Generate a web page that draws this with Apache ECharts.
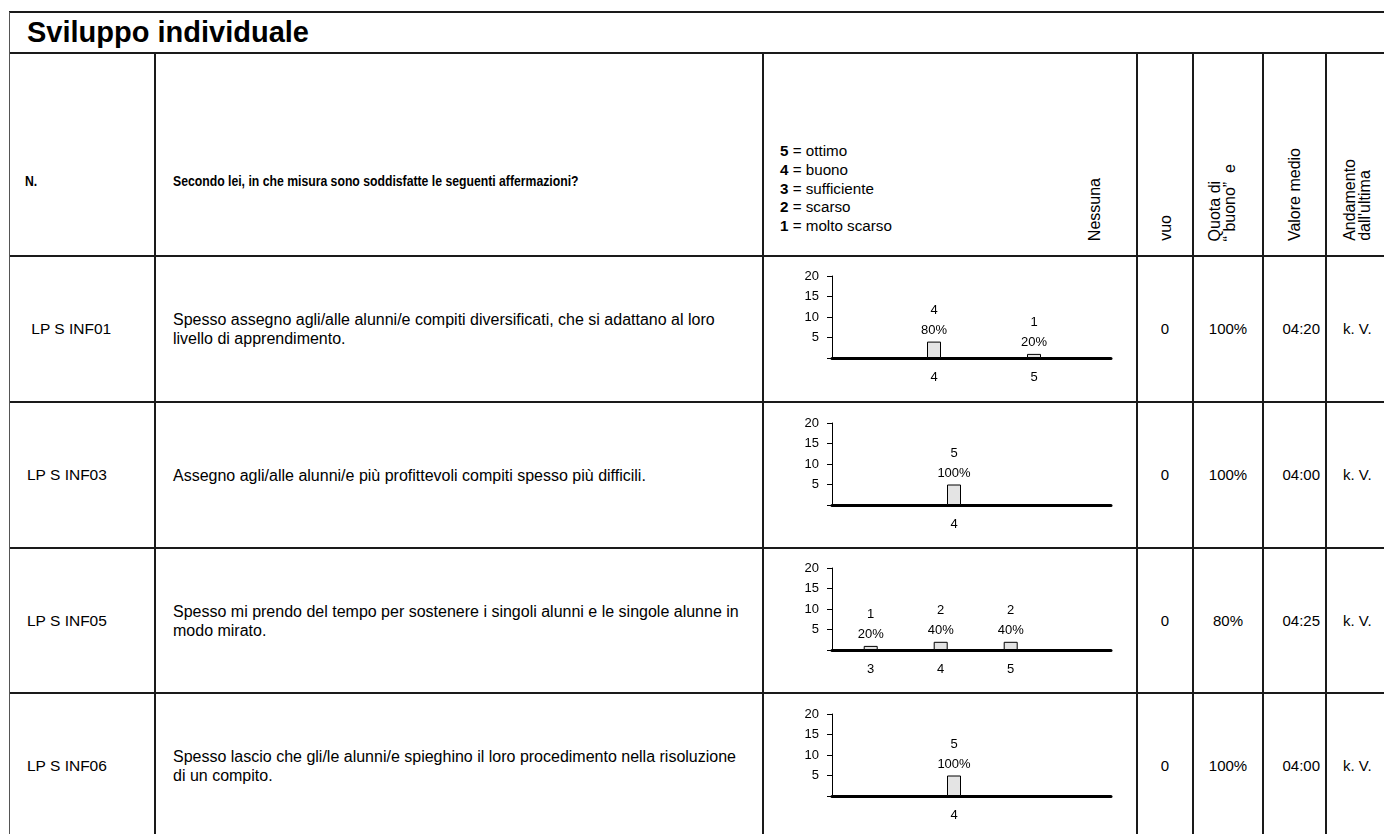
<!DOCTYPE html>
<html>
<head>
<meta charset="utf-8">
<script src="https://cdn.jsdelivr.net/npm/echarts@6/dist/echarts.min.js"></script>
<style>
  body { margin:0; background:#fff; font-family:"Liberation Sans", Arial, sans-serif; color:#000; }
  #page { position:absolute; left:0; top:0; width:1384px; height:834px; overflow:hidden; }
  .hl { position:absolute; height:2px; background:#1a1a1a; }
  .vl { position:absolute; width:2px; background:#1a1a1a; }
  .txt { position:absolute; font-size:15px; white-space:nowrap; }
  .narrow { transform:scaleX(0.815); transform-origin:0 50%; }
  .rot { position:absolute; font-size:16px; white-space:nowrap; writing-mode:vertical-rl; transform:rotate(180deg); line-height:15px; }
  #chart { position:absolute; left:0; top:0; width:1384px; height:834px; }
</style>
</head>
<body>
<div id="page"></div>
<div id="chart"></div>
<script>
// table content
var itemCodes = [' LP S INF01', 'LP S INF03', 'LP S INF05', 'LP S INF06'];
var itemTexts = [
  ['Spesso assegno agli/alle alunni/e compiti diversificati, che si adattano al loro', 'livello di apprendimento.'],
  ['Assegno agli/alle alunni/e più profittevoli compiti spesso più difficili.'],
  ['Spesso mi prendo del tempo per sostenere i singoli alunni e le singole alunne in', 'modo mirato.'],
  ['Spesso lascio che gli/le alunni/e spieghino il loro procedimento nella risoluzione', 'di un compito.']
];
var emptyAnswers = [0, 0, 0, 0];
var goodShare = ['100%', '100%', '80%', '100%'];
var meanValue = ['04:20', '04:00', '04:25', '04:00'];
var trendSinceLast = ['k. V.', 'k. V.', 'k. V.', 'k. V.'];
var scaleLegend = [['5', 'ottimo'], ['4', 'buono'], ['3', 'sufficiente'], ['2', 'scarso'], ['1', 'molto scarso']];

// answers per item
var answerLevels = [[4, 5], [4], [3, 4, 5], [4]];
var answerCounts = [[4, 1], [5], [1, 2, 2], [5]];
var answerShares = [[80, 20], [100], [20, 40, 40], [100]];

var page = document.getElementById('page');
function add(cls, css, html){
  var d = document.createElement('div');
  d.className = cls;
  d.style.cssText = css;
  if(html!==undefined) d.innerHTML = html;
  page.appendChild(d);
  return d;
}

// grid lines
var rowTops = [256, 402, 548, 693];
var rowH = 146;
[12, 53].concat(rowTops).forEach(function(y){
  add('hl', 'left:9px;top:'+(y-1)+'px;width:1380px;');
});
add('vl', 'left:9px;top:12px;height:830px;width:1px;background:#555;');
[155, 763, 1137, 1193, 1263, 1326].forEach(function(x){
  add('vl', 'left:'+(x-1)+'px;top:53px;height:790px;');
});

// title + header
add('txt', 'left:27px;top:12px;height:41px;line-height:41px;font-size:29px;font-weight:bold;', 'Sviluppo individuale');
add('txt narrow', 'left:25px;top:172px;font-weight:bold;', 'N.');
add('txt narrow', 'left:173px;top:172px;font-weight:bold;', 'Secondo lei, in che misura sono soddisfatte le seguenti affermazioni?');
for(var k=0;k<scaleLegend.length;k++){
  add('txt', 'left:780px;top:'+(142+k*18.75)+'px;line-height:18px;font-size:15.2px;', '<b>'+scaleLegend[k][0]+'</b> = '+scaleLegend[k][1]);
}
add('rot', 'left:1087px;bottom:593px;', 'Nessuna');
add('rot', 'left:1158px;bottom:593px;', 'vuo');
add('rot', 'left:1207px;bottom:593px;', 'Quota di<br>“ buono”&nbsp;&nbsp;e');
add('rot', 'left:1287px;bottom:593px;', 'Valore medio');
add('rot', 'left:1342px;bottom:593px;', 'Andamento<br>dall\'ultima');

// rows
for(var i=0;i<itemCodes.length;i++){
  var rowTop = rowTops[i];
  var mid = rowTop + rowH/2;
  add('txt', 'left:27px;top:'+(mid-9)+'px;white-space:pre;font-size:15.5px;', itemCodes[i]);
  var n = itemTexts[i].length;
  add('txt', 'left:173px;top:'+(mid - n*19/2)+'px;line-height:19px;font-size:16px;', itemTexts[i].join('<br>'));
  add('txt', 'left:1137px;width:56px;text-align:center;top:'+(mid-9)+'px;', emptyAnswers[i]);
  add('txt', 'left:1193px;width:70px;text-align:center;top:'+(mid-9)+'px;', goodShare[i]);
  add('txt', 'left:1263px;width:57px;text-align:right;top:'+(mid-9)+'px;', meanValue[i]);
  add('txt', 'left:1343px;top:'+(mid-9)+'px;', trendSinceLast[i]);
}

// mini bar charts, one grid per row
var myChart = echarts.init(document.getElementById('chart'));
var gridTops = [276, 423, 568, 714];
var xRanges = [[2.98, 5.77], [2.78, 5.57], [2.447, 6.433], [2.78, 5.57]];
var grids = [], xAxes = [], yAxes = [], series = [];
for(var i=0;i<answerLevels.length;i++){
  grids.push({left:832, width:279, top:gridTops[i], height:82});
  xAxes.push({
    type:'value', gridIndex:i, min:xRanges[i][0], max:xRanges[i][1],
    axisLine:{show:true, lineStyle:{color:'#000', width:3}},
    axisTick:{show:false},
    splitLine:{show:false},
    axisLabel:{customValues:answerLevels[i], margin:13, fontSize:13, color:'#000', fontFamily:'Liberation Sans, Arial'}
  });
  yAxes.push({
    type:'value', gridIndex:i, min:0, max:20, interval:5,
    axisLine:{show:true, lineStyle:{color:'#000', width:1}},
    axisTick:{show:true, length:5, lineStyle:{color:'#000'}},
    splitLine:{show:false},
    axisLabel:{margin:13, fontSize:13, color:'#000', fontFamily:'Liberation Sans, Arial',
      formatter:function(v){ return v==0 ? '' : v; }}
  });
  var pts = [];
  for(var j=0;j<answerLevels[i].length;j++){
    pts.push({value:[answerLevels[i][j], answerCounts[i][j]], share:answerShares[i][j]});
  }
  series.push({
    type:'bar', xAxisIndex:i, yAxisIndex:i, barWidth:14, data:pts,
    itemStyle:{color:'#e4e4e4', borderColor:'#000', borderWidth:1},
    label:{show:true, position:'top', distance:1, fontSize:13, lineHeight:20, color:'#000',
      fontFamily:'Liberation Sans, Arial',
      formatter:function(p){ return p.value[1]+'\n'+p.data.share+'%'; }},
    animation:false
  });
}
myChart.setOption({
  animation:false,
  grid:grids, xAxis:xAxes, yAxis:yAxes, series:series
});
</script>
</body>
</html>
